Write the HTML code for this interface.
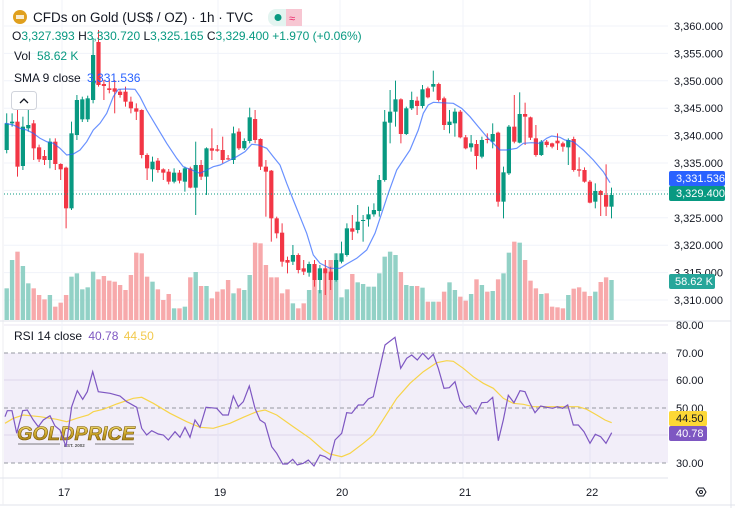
<!DOCTYPE html>
<html><head><meta charset="utf-8"><style>
body{margin:0;width:735px;height:508px;overflow:hidden;background:#fff;font-family:"Liberation Sans",sans-serif;}
svg{position:absolute;left:0;top:0}
</style></head><body>
<svg id="s" width="735" height="508" xmlns="http://www.w3.org/2000/svg" font-family="Liberation Sans, sans-serif">
<defs><linearGradient id="gg" x1="0" y1="0" x2="0" y2="1"><stop offset="0" stop-color="#f5e27a"/><stop offset="0.5" stop-color="#c9a227"/><stop offset="1" stop-color="#8a6a10"/></linearGradient></defs>
<rect x="0" y="0" width="735" height="508" fill="#fff"/>
<line x1="731" y1="0" x2="731" y2="508" stroke="#e0e3eb"/>
<line x1="0" y1="505" x2="735" y2="505" stroke="#e0e3eb"/>
<line x1="3" y1="0" x2="3" y2="505" stroke="#eceef2"/>
<g id="grid"></g>
<rect x="4" y="353" width="664" height="110" fill="#7e57c2" fill-opacity="0.1"/>
<g stroke="#9598a1" stroke-dasharray="4,3" stroke-width="1">
<line x1="4" y1="353" x2="668" y2="353"/><line x1="4" y1="408" x2="668" y2="408"/><line x1="4" y1="463" x2="668" y2="463"/>
</g>
<line x1="0" y1="321" x2="731" y2="321" stroke="#e0e3eb"/>
<line x1="0" y1="478" x2="668" y2="478" stroke="#e0e3eb"/>
<g id="vol"></g>
<g id="cand"></g>
<polyline id="sma" fill="none" stroke="#2962ff" stroke-opacity="0.7" stroke-width="1.2"/>
<line x1="4" y1="194" x2="668" y2="194" stroke="#089981" stroke-dasharray="1,2"/>
<g font-weight="bold" font-style="italic">
<text x="17" y="440" font-size="19" fill="url(#gg)" stroke="#7a5a08" stroke-width="0.6" textLength="118" lengthAdjust="spacingAndGlyphs">GOLDPRICE</text>
<line x1="18" y1="444" x2="60" y2="444" stroke="#555" stroke-width="0.7"/>
<line x1="95" y1="444" x2="134" y2="444" stroke="#555" stroke-width="0.7"/>
<text x="64" y="447" font-size="4.5" fill="#555" font-style="normal">EST. 2002</text>
</g>
<polyline id="rsima" fill="none" stroke="#f7d44a" stroke-width="1.2"/>
<polyline id="rsi" fill="none" stroke="#7e57c2" stroke-width="1.2"/>
<g font-size="11" fill="#131722">
<text x="674" y="30">3,360.000</text><text x="674" y="57.4">3,355.000</text><text x="674" y="84.8">3,350.000</text><text x="674" y="112.2">3,345.000</text><text x="674" y="139.6">3,340.000</text><text x="674" y="167">3,335.000</text><text x="674" y="221.8">3,325.000</text><text x="674" y="249.2">3,320.000</text><text x="674" y="276.6">3,315.000</text><text x="674" y="304">3,310.000</text>
<text x="676" y="329">80.00</text><text x="676" y="357">70.00</text><text x="676" y="384">60.00</text><text x="676" y="412">50.00</text><text x="676" y="467">30.00</text>
</g>
<rect x="669" y="171" width="56" height="15" rx="2" fill="#2962ff"/><text x="676" y="182" font-size="11" fill="#fff">3,331.536</text>
<rect x="669" y="186" width="56" height="15" rx="2" fill="#089981"/><text x="676" y="197" font-size="11" fill="#fff">3,329.400</text>
<rect x="669" y="274" width="46" height="15" rx="2" fill="#26a69a"/><text x="675" y="285" font-size="11" fill="#fff">58.62 K</text>
<rect x="669" y="411" width="38" height="15" rx="2" fill="#fdd835"/><text x="676" y="422" font-size="11" fill="#131722">44.50</text>
<rect x="669" y="426" width="38" height="15" rx="2" fill="#7e57c2"/><text x="676" y="437" font-size="11" fill="#fff">40.78</text>
<g font-size="11" fill="#131722">
<text x="58" y="496">17</text><text x="214" y="496">19</text><text x="336" y="496">20</text><text x="459" y="496">21</text><text x="586" y="496">22</text>
</g>
<polygon points="696,492 698.5,488 703.5,488 706,492 703.5,496 698.5,496" fill="none" stroke="#131722" stroke-width="1"/><circle cx="701" cy="492" r="1.5" fill="none" stroke="#131722"/>
<circle cx="20" cy="17" r="7" fill="#e0a01e"/><rect x="16" y="15" width="8" height="4" fill="#fff" opacity="0.8"/>
<text x="33" y="22" font-size="13.5" fill="#131722">CFDs on Gold (US$ / OZ) · 1h · TVC</text>
<rect x="268" y="9" width="34" height="17" rx="8" fill="#e3f4f0"/><rect x="286" y="9" width="16" height="17" fill="#f7c6d2"/>
<circle cx="278" cy="17.5" r="3.5" fill="#089981"/><text x="289" y="22" font-size="11" fill="#e91e63">≈</text>
<text x="12" y="40" font-size="12" fill="#131722">O<tspan fill="#089981">3,327.393</tspan> H<tspan fill="#089981">3,330.720</tspan> L<tspan fill="#089981">3,325.165</tspan> C<tspan fill="#089981">3,329.400</tspan> <tspan fill="#089981">+1.970 (+0.06%)</tspan></text>
<text x="14" y="60" font-size="12" fill="#131722">Vol <tspan fill="#089981" dx="3">58.62 K</tspan></text>
<text x="14" y="82" font-size="12" fill="#131722">SMA 9 close <tspan fill="#2962ff" dx="3">3,331.536</tspan></text>
<rect x="11.5" y="91.5" width="25" height="18" rx="3" fill="#fff" stroke="#d1d4dc"/><path d="M20 103 L24 99 L28 103" fill="none" stroke="#131722" stroke-width="1.3"/>
<text x="14" y="340" font-size="12" fill="#131722">RSI 14 close <tspan fill="#7e57c2" dx="3">40.78</tspan> <tspan fill="#f2c94c" dx="2">44.50</tspan></text>
</svg>
<script>
const NS="http://www.w3.org/2000/svg";
function el(p,t,a){const e=document.createElementNS(NS,t);for(const k in a)e.setAttribute(k,a[k]);document.getElementById(p).appendChild(e);return e;}
for(let i=0;i<=10;i++){const y=26+i*27.4;el('grid','line',{x1:4,y1:y,x2:668,y2:y,stroke:'#f0f3fa'});}
[325,380,435].forEach(y=>el('grid','line',{x1:4,y1:y,x2:668,y2:y,stroke:'#e8e6f0'}));
[62,218,340,463,590].forEach(x=>el('grid','line',{x1:x,y1:0,x2:x,y2:478,stroke:'#f0f3fa'}));
const C=[[190,270,'g',160,280],[185,190,'g',160,200],[185,320,'r',150,350],[200,318,'g',170,330],[195,205,'g',150,215],[190,265,'r',180,300],[262,298,'r'],[288,300,'r',270,315],[245,300,'g',235,325],[245,312,'r',235,330],[312,328,'r',310,360],[323,445,'r',320,505],[220,445,'g',185,450],[120,225,'g',105,240],[118,178,'g'],[115,178,'g'],
[-15,120,'g',-66,130],[-54,75,'r',-90,80],[72,78,'r',60,120],[85,90,'r',60,100],[85,95,'r',60,160],[95,105,'r'],[95,125,'r',80,140],[125,145,'r',110,160],[145,155,'r',130,180],[150,285,'r',148,295],[285,325,'r',280,360],[305,328,'g',290,365],[302,330,'r'],[328,338,'r',325,360],[335,365,'r'],[338,365,'g',325,370],[338,362,'r'],[325,365,'g',320,395],[325,383,'r',320,385],[315,383,'g',245,465],[315,350,'r',300,360],[265,350,'g',262,405],[265,272,'r',205,300],[268,272,'r',255,275],[270,300,'r',230,310],[295,298,'r',285,300],[220,300,'g',200,312],[215,265,'r',205,270],[243,265,'g',235,270],[172,243,'g',143,250],[177,240,'r',150,250],[237,320,'r',235,330],[320,335,'r',300,470],[332,475,'r',330,545],[475,520,'r',470,535],[518,605,'r',490,620],[600,608,'r',590,640],[585,605,'g',555,615],[585,630,'r',580,640],[625,635,'r',600,645],[612,638,'g',605,650],[612,660,'r',600,680],[625,660,'g',615,700],[625,640,'r',600,705],[635,660,'r',620,690],[600,660,'g',580,665],
[580,605,'g',545,610],[505,585,'g',490,590],[505,515,'r',465,540],[485,510,'g',435,520],[480,483,'g',465,545],[463,478,'g',440,500],[450,463,'g',430,470],[360,453,'g',345,470],[185,360,'g',150,365],[155,188,'g',90,250],[118,155,'g',62,200],[118,222,'r',115,250],[145,222,'g',140,225],[120,145,'g',95,150],[122,138,'r',110,165],[88,138,'g',75,145],[85,112,'r',80,115],[72,80,'g',32,95],[72,120,'r',68,125],[115,195,'r',110,210],[185,195,'g',150,220],[155,190,'g',145,230],[155,232,'r',150,235],[232,265,'r',225,268],[250,262,'g',225,275],[252,288,'r',240,328],[240,290,'g',230,295],[237,240,'r',220,250],[222,245,'g',190,265],[218,425,'r',215,440],[337,425,'g',320,475],[200,340,'g',195,345],[200,245,'r',105,250],[162,248,'g',97,250],[162,170,'r',128,255],[172,233,'r',170,240],[235,285,'r',195,290],[245,285,'g',240,288],[245,255,'r',240,262],[250,260,'r',248,265],[242,250,'r',220,270],[250,260,'r',245,275],[240,262,'g',235,315],[237,330,'r',230,335],[328,332,'r',292,350],[330,365,'r',322,368],[365,428,'r',360,430],[393,425,'g',370,445],[393,405,'r',390,468],[405,440,'r',313,468],[405,440,'g',383,475]];
const V=[685,600,575,618,670,685,705,718,705,740,728,705,650,640,688,682,635,658,648,662,665,675,690,645,578,580,650,665,688,720,702,745,745,740,652,636,678,678,715,695,688,660,700,685,690,645,548,550,615,652,652,700,688,730,745,730,690,660,690,640,600,580,712,688,642,667,672,680,680,640,590,575,585,636,675,678,678,683,725,725,725,695,667,690,710,722,702,658,675,695,693,658,640,578,545,548,600,662,685,702,700,740,742,745,705,686,682,695,708,695,666,652,660];
const Y=z=>60+z/3;
C.forEach((c,i)=>{const x=6.7+i*5.4;const col=c[2]=='g'?'#089981':'#f23645';
 const wt=c[3]!==undefined?c[3]:c[0]-8, wb=c[4]!==undefined?c[4]:c[1]+8;
 el('cand','line',{x1:x,y1:Y(wt),x2:x,y2:Y(wb),stroke:col,'stroke-width':1});
 const t=Y(c[0]),b=Y(c[1]);el('cand','rect',{x:x-2.1,y:t,width:4.2,height:Math.max(1,b-t),fill:col});
 const vt=Y(V[i]);el('vol','rect',{x:x-2.2,y:vt,width:4.4,height:320-vt,fill:c[2]=='g'?'#92d1c6':'#f7a9ab'});
});
function pts(id,a,ox,oy){document.getElementById(id).setAttribute('points',a.map(p=>(p[0]/3+ox).toFixed(1)+','+(p[1]/3+oy).toFixed(1)).join(' '));}
const sma=[[15,190],[40,195],[60,205],[80,210],[100,220],[120,235],[140,245],[160,250],[180,265],[200,285],[220,282],[240,270],[260,245],[280,210],[300,190],[320,160],[340,110],[355,88],[380,87],[405,88],[420,110],[440,150],[470,200],[500,250],[530,295],[550,320],[575,330],[600,340],[620,330],[640,320],[660,315],[690,300],[710,290],[735,275],[755,253],[775,255],[800,265],[820,290],[840,315],[860,370],[880,420],[900,470],[920,520],[940,585],[960,610],[990,625],[1020,625]];
const sma2=[[30,625],[50,612],[80,595],[110,570],[135,520],[155,460],[175,400],[200,330],[240,270],[265,210],[280,160],[295,135],[310,127],[330,128],[370,130],[395,145],[420,170],[445,200],[470,230],[490,250],[510,270],[530,270],[560,265],[580,250],[605,248],[630,250],[650,235],[665,228],[690,232],[705,240],[730,245],[760,270],[790,300],[820,335],[840,368]].map(p=>[p[0]+990,p[1]]);
pts('sma',sma.concat(sma2),0,60);
const r1=[[15,290],[22,272],[36,272],[50,340],[68,272],[82,270],[100,300],[115,320],[130,300],[150,287],[165,318],[180,330],[198,380],[215,260],[232,212],[248,238],[262,215],[278,155],[295,215],[330,220],[360,228],[380,245],[410,262],[425,325],[440,345],[455,332],[475,342],[490,345],[505,360],[525,335],[540,352],[555,322],[570,352],[585,300],[600,322],[618,262],[650,265],[668,285],[685,285],[700,228],[715,260],[730,245],[748,198],[765,265],[780,300],[795,310],[815,380],[830,400],[848,432],[862,432],[878,418],[892,435],[910,430],[925,420],[942,438],[960,405],[975,410],[990,420]];
const r2=[[0,420],[15,360],[35,340],[50,278],[65,280],[85,255],[100,255],[115,237],[130,230],[165,75],[195,52],[212,145],[230,115],[245,105],[262,120],[278,100],[295,118],[310,103],[325,145],[342,205],[358,203],[375,185],[390,242],[405,262],[420,257],[438,282],[455,248],[472,247],[488,232],[505,362],[520,300],[535,226],[552,248],[570,212],[585,215],[600,250],[615,278],[632,258],[650,262],[668,265],[682,260],[698,265],[713,255],[730,315],[745,315],[762,335],[780,370],[796,343],[812,350],[828,370],[845,338]].map(p=>[p[0]+990,p[1]]);
pts('rsi',r1.concat(r2),0,320);
const m1=[[15,310],[40,295],[70,285],[120,290],[170,298],[200,305],[230,295],[265,285],[280,275],[310,268],[350,252],[400,235],[425,232],[460,250],[510,280],[560,305],[600,322],[640,325],[690,310],[730,292],[770,275],[795,270],[830,285],[880,320],[930,355],[970,390],[990,402]];
const m2=[[35,410],[60,400],[100,370],[130,345],[165,290],[200,235],[240,190],[280,155],[320,128],[350,122],[370,124],[400,145],[430,170],[460,190],[490,205],[520,235],[550,250],[580,253],[610,260],[650,260],[700,260],[745,260],[770,268],[800,285],[825,300],[845,308]].map(p=>[p[0]+990,p[1]]);
pts('rsima',m1.concat(m2),0,320);
</script>
</body></html>
